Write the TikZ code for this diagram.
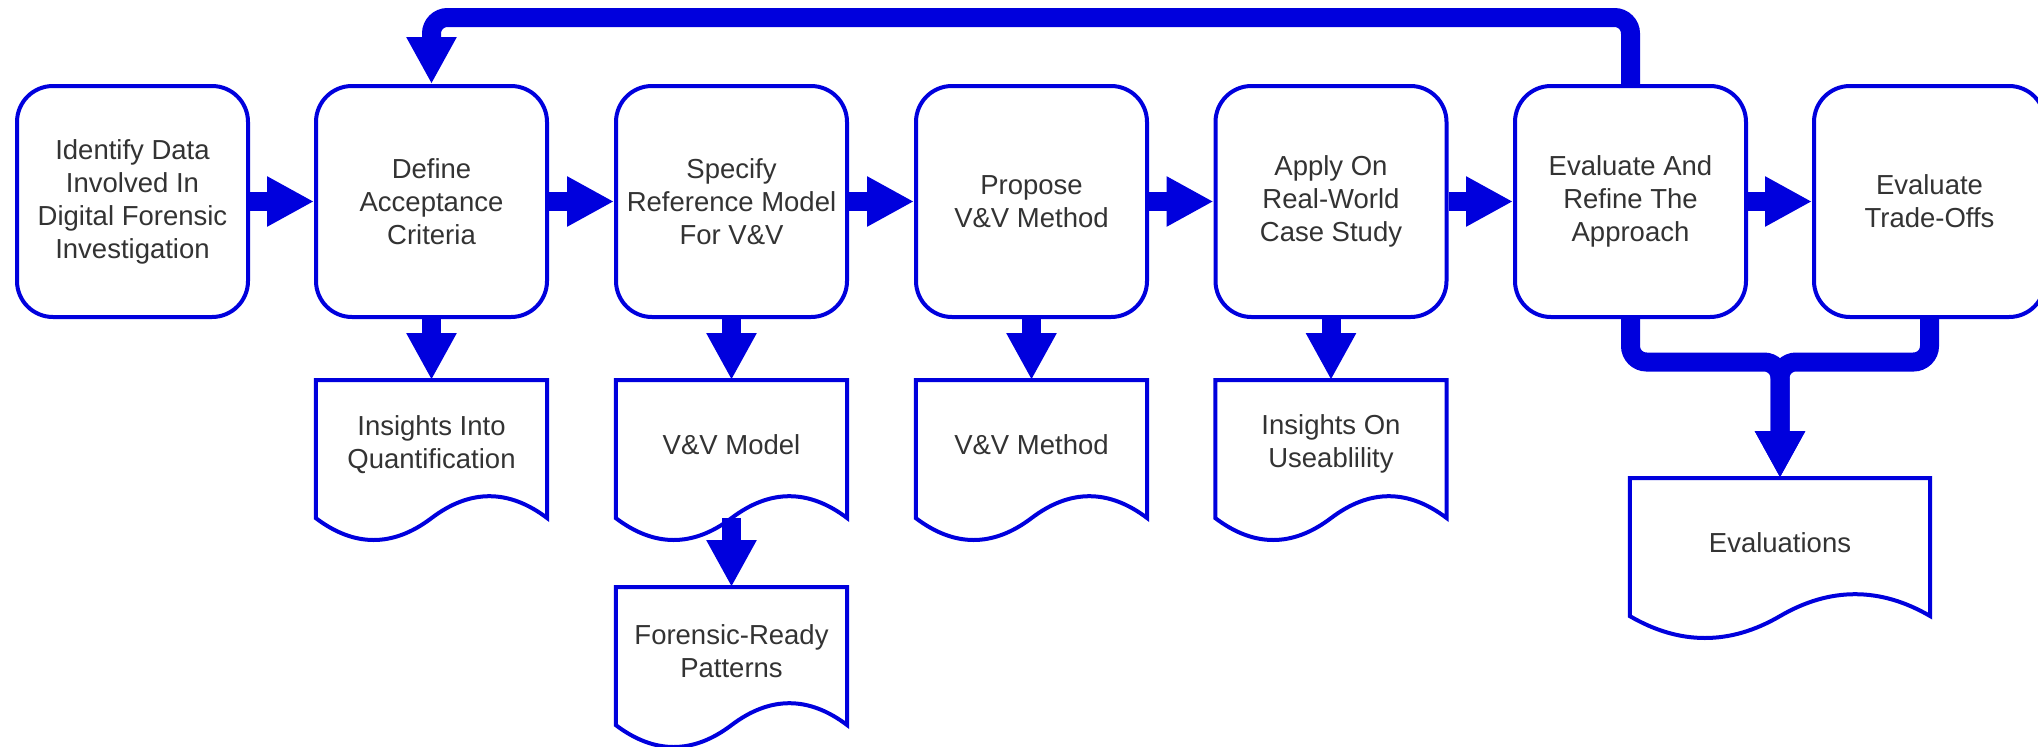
\documentclass[tikz,border=0pt]{standalone}
\usepackage{fontspec}
\setmainfont{Liberation Sans}
\usetikzlibrary{arrows.meta,calc}
\definecolor{fcblue}{HTML}{0000DD}
\definecolor{fctext}{HTML}{333333}
\begin{document}
\begin{tikzpicture}[x=1pt,y=-1pt,
  every node/.style={font=\fontsize{27.5}{33}\selectfont, text=fctext, align=center},
  procbox/.style={draw=fcblue, line width=4pt, fill=white, rounded corners=36pt,
    minimum width=231pt, minimum height=231pt, inner sep=0pt},
  docbox/.style={minimum width=#1, minimum height=128pt, inner sep=0pt, anchor=north},
  docline/.style={draw=fcblue, line width=4pt, line join=miter},
  flow/.style={draw=fcblue, line width=19pt, -{Triangle[width=47pt,length=47pt]}},
]
\useasboundingbox (0,0) rectangle (2038,747);
\clip (0,0) rectangle (2038,747);

% process boxes
\node[procbox] (b1) at (132.5,201.5) {Identify Data\\Involved In\\Digital Forensic\\Investigation};
\node[procbox] (b2) at (431.5,201.5) {Define\\Acceptance\\Criteria};
\node[procbox] (b3) at (731.5,201.5) {Specify\\Reference Model\\For V\&V};
\node[procbox] (b4) at (1031.5,201.5) {Propose\\V\&V Method};
\node[procbox] (b5) at (1331,201.5) {Apply On\\Real-World\\Case Study};
\node[procbox] (b6) at (1630.5,201.5) {Evaluate And\\Refine The\\Approach};
\node[procbox] (b7) at (1929.5,201.5) {Evaluate\\Trade-Offs};

% documents
\node[docbox=231pt] (d1) at (431.5,380) {Insights Into\\Quantification};
\node[docbox=231pt] (d2) at (731.5,380) {V\&V Model};
\node[docbox=231pt] (d3) at (1031.5,380) {V\&V Method};
\node[docbox=231pt] (d4) at (1331,380) {Insights On\\Useablility};
\node[docbox=231pt] (d5) at (731.5,587) {Forensic-Ready\\Patterns};
\node[docbox=300pt] (d6) at (1780,478) {Evaluations};

\foreach \n in {d1,d2,d3,d4,d5,d6} {
  \draw[docline] ($(\n.south west)+(0,9.7)$) -- (\n.north west) -- (\n.north east)
    -- ($(\n.south east)+(0,9.7)$)
    .. controls ($(\n.south east)!1/6!(\n.south west)+(0,-19.5)$)
       and ($(\n.south east)!1/3!(\n.south west)+(0,-19.5)$) .. ($(\n.south)+(0,9.7)$)
    .. controls ($(\n.south east)!2/3!(\n.south west)+(0,38.9)$)
       and ($(\n.south east)!5/6!(\n.south west)+(0,38.9)$) .. ($(\n.south west)+(0,9.7)$)
    -- cycle;
}

% main flow
\draw[flow] (b1) -- (b2);
\draw[flow] (b2) -- (b3);
\draw[flow] (b3) -- (b4);
\draw[flow] (b4) -- (b5);
\draw[flow] (b5) -- (b6);
\draw[flow] (b6) -- (b7);

% outputs
\draw[flow] (b2.south) -- (d1.north);
\draw[flow] (b3.south) -- (d2.north);
\draw[flow] (b4.south) -- (d3.north);
\draw[flow] (b5.south) -- (d4.north);
\draw[flow] ($(d2.south)+(0,9.7)$) -- (d5.north);

% feedback loop
\draw[flow, rounded corners=16pt] (b6.north) -- ++(0,-66.5) -| (b2.north);

% merge into evaluations
\draw[flow, rounded corners=16pt] (b6.south) -- ++(0,43) -| (d6.north);
\draw[flow, rounded corners=16pt] (b7.south) -- ++(0,43) -| (d6.north);
\end{tikzpicture}
\end{document}
